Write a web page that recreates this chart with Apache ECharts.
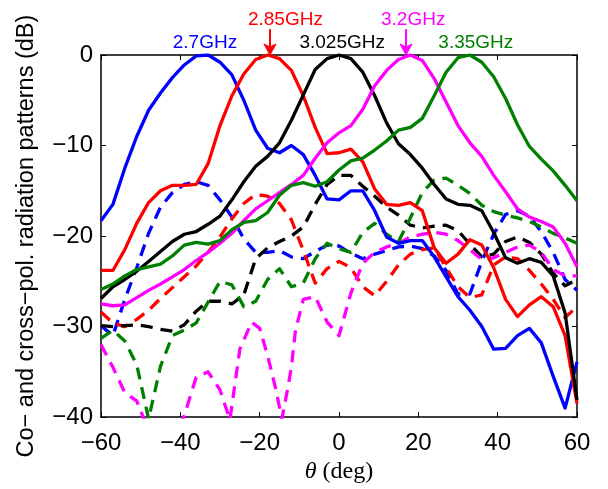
<!DOCTYPE html>
<html><head><meta charset="utf-8">
<script src="https://cdn.jsdelivr.net/npm/echarts@6/dist/echarts.min.js"></script>
<style>html,body{margin:0;padding:0;background:#fff}#c{width:608px;height:489px}</style>
</head><body><div id="c"></div>
<script>
// angle samples (deg)
const theta = [-60,-57,-54,-51,-48,-45,-42,-39,-36,-33,-30,-27,-24,-21,-18,-15,-12,-9,-6,-3,0,3,6,9,12,15,18,21,24,27,30,33,36,39,42,45,48,51,54,57,60];

// co-pol (solid)
const co27  = [-18.3,-16.5,-12.5,-9.0,-6.1,-4.2,-2.5,-1.1,-0.1,0,-0.8,-2.2,-5.0,-8.3,-10.3,-10.8,-10.0,-11.0,-13.3,-15.9,-16.0,-15.0,-15.0,-17.2,-20.1,-20.8,-20.5,-20.5,-22.3,-24.5,-26.7,-28.2,-30.0,-32.5,-32.4,-31.0,-30.2,-31.8,-35.5,-39.0,-33.9];
const co285 = [-23.8,-23.8,-21.5,-18.6,-16.3,-15.0,-14.4,-14.4,-14.3,-12.0,-7.8,-4.5,-2.1,-0.5,0,-0.4,-1.7,-4.5,-8.0,-10.9,-10.8,-10.4,-11.8,-14.8,-16.5,-16.6,-16.3,-17.2,-21.3,-23.0,-22.0,-20.4,-21.0,-23.5,-27.0,-28.9,-27.6,-26.7,-27.8,-31.0,-38.5];
const co3025= [-26.9,-25.6,-24.8,-23.9,-22.8,-21.7,-20.6,-19.8,-19.5,-18.7,-17.8,-16.0,-14.0,-12.3,-11.2,-9.7,-7.2,-4.4,-1.6,-0.4,0,-0.4,-1.9,-4.5,-7.5,-9.8,-11.0,-12.5,-14.3,-15.9,-16.5,-16.6,-17.2,-19.6,-22.4,-23.0,-22.5,-22.9,-24.4,-28.5,-38.1];
const co32  = [-27.5,-27.7,-27.6,-26.8,-26.0,-25.3,-24.5,-23.7,-22.7,-21.8,-20.8,-19.7,-18.3,-17.0,-16.1,-15.2,-14.3,-13.3,-11.4,-9.7,-8.6,-7.8,-6.0,-3.4,-1.7,-0.5,0,-0.6,-2.6,-5.2,-7.8,-9.7,-11.2,-13.3,-15.1,-17.0,-17.9,-18.4,-19.0,-20.8,-23.4];
const co335 = [-25.9,-25.3,-24.4,-23.7,-23.4,-23.1,-22.2,-21.0,-20.7,-20.9,-20.5,-19.3,-18.5,-18.3,-17.4,-15.5,-14.4,-14.1,-14.5,-14.0,-12.7,-11.7,-11.4,-10.5,-9.5,-8.3,-8.0,-7.0,-4.5,-1.9,-0.3,0,-0.8,-2.4,-4.8,-7.7,-10.1,-11.5,-12.8,-14.4,-16.1];

// cross-pol (dashed)
const x27   = [-29.9,-31.0,-27.0,-23.5,-19.7,-16.8,-15.2,-14.3,-14.0,-14.4,-16.0,-17.9,-20.3,-21.8,-21.8,-21.6,-22.3,-22.5,-21.7,-21.0,-21.1,-21.9,-22.5,-22.0,-21.6,-21.2,-21.1,-21.4,-22.2,-23.8,-26.4,-26.4,-22.8,-19.8,-17.6,-17.2,-17.8,-19.5,-21.8,-24.8,-26.0];
const x285  = [-28.4,-29.6,-30.0,-29.2,-28.2,-26.9,-25.7,-24.5,-23.3,-21.8,-20.1,-18.1,-16.4,-15.4,-15.6,-16.4,-18.2,-21.6,-25.2,-23.6,-22.8,-23.5,-25.6,-26.6,-25.0,-23.2,-22.0,-21.5,-21.3,-23.5,-25.6,-26.8,-26.5,-23.2,-22.3,-22.5,-23.8,-25.3,-27.0,-29.0,-27.8];
const x3025 = [-29.9,-30.0,-29.9,-29.8,-30.0,-30.3,-30.5,-29.8,-28.3,-27.2,-27.2,-27.5,-26.5,-22.5,-21.3,-20.6,-20.0,-19.0,-16.5,-14.3,-13.3,-13.3,-14.5,-15.6,-16.8,-17.7,-18.8,-19.1,-18.9,-18.8,-19.4,-20.9,-22.3,-22.0,-20.6,-20.1,-20.7,-22.0,-24.1,-25.5,-24.8];
const x335  = [-31.3,-30.4,-31.6,-34.2,-40.2,-34.4,-31.0,-30.4,-29.6,-27.3,-25.0,-25.4,-27.8,-27.2,-24.8,-23.6,-25.6,-25.2,-22.5,-20.8,-21.4,-21.8,-19.6,-18.6,-19.8,-20.6,-18.0,-15.2,-13.8,-13.6,-14.4,-15.3,-16.6,-17.3,-17.7,-18.0,-18.4,-19.0,-19.7,-20.2,-20.8];
// 3.2 GHz cross-pol needs its own (finer) angle samples
const theta32x = [-60,-57,-54,-51,-48,-45,-42,-39,-36,-33,-30,-27.5,-25,-22,-20,-18,-16,-14.4,-13,-12,-11,-9,-6,-3,0,3,6,9,12,15,18,21,24,27,30,33,36,39,42,45,48,51,54,57,60];
const x32   = [-32.0,-34.5,-37.3,-38.2,-41.5,-44,-43,-39.8,-35.6,-35.0,-37.0,-40.3,-32.5,-29.5,-30.2,-33.2,-36.8,-40.2,-37.0,-34.5,-30.5,-27.0,-26.7,-29.5,-31.0,-26.3,-23.0,-21.8,-21.2,-20.8,-20.1,-19.8,-19.6,-19.8,-20.5,-21.5,-22.6,-22.4,-21.8,-21.2,-21.0,-21.8,-23.7,-24.4,-24.4];

const xTicks = [-60,-40,-20,0,20,40,60];
const yTicks = [-40,-30,-20,-10,0];

const BLUE='#0000ff', RED='#ff0000', BLACK='#000000', MAG='#ff00ff', GREEN='#008000';

// annotation labels (data coordinates) and arrows
const labels = [
  {text:'2.7GHz',   color:BLUE,  x:-33.8, y:1.35},
  {text:'2.85GHz',  color:RED,   x:-13.5, y:3.85},
  {text:'3.025GHz', color:BLACK, x:0.8,   y:1.35},
  {text:'3.2GHz',   color:MAG,   x:18.7,  y:3.85},
  {text:'3.35GHz',  color:GREEN, x:34.5,  y:1.35}
];
const arrows = [
  {color:RED, x:-17.4, from:2.85, to:0},
  {color:MAG, x:16.9,  from:2.85, to:0}
];

function pairs(xs, ys){ return xs.map((v,i)=>[v, ys[i]]); }
function mk(name, xs, ys, color, dashed){
  return {name, type:'line', data:pairs(xs,ys), showSymbol:false, symbol:'none', clip:true,
    lineStyle:{color, width:3.3, type: dashed ? [12,8] : 'solid', cap:'butt', join:'round'}, itemStyle:{color},
    animation:false, z: dashed?2:3};
}
const FONT='"Liberation Sans", Arial, sans-serif';
const SERIF='"Liberation Serif", "DejaVu Serif", serif';
const minus = v => v<0 ? '\u2212'+(-v) : String(v);

const chart = echarts.init(document.getElementById('c'), null, {renderer:'canvas'});
const axisCommon = {min:-60,max:60,interval:20};
chart.setOption({
  animation:false,
  backgroundColor:'#fff',
  grid:{left:101, right:31, top:55, bottom:70, containLabel:false},
  xAxis:[
    {type:'value', ...axisCommon, position:'bottom',
     axisLine:{show:true,onZero:false,lineStyle:{color:'#000',width:1.5}},
     axisTick:{show:true,inside:true,length:5,lineStyle:{color:'#000',width:1}},
     splitLine:{show:false},
     axisLabel:{color:'#000',fontSize:24,fontFamily:FONT,margin:14,formatter:minus,
       customValues:xTicks},
     name:'{i|θ} (deg)', nameLocation:'middle', nameGap:36,
     nameTextStyle:{color:'#000',fontSize:24,fontFamily:SERIF,
       rich:{i:{fontStyle:'italic',fontSize:24,fontFamily:SERIF,color:'#000'}}}},
    {type:'value', ...axisCommon, position:'top',
     axisLine:{show:true,onZero:false,lineStyle:{color:'#000',width:1.5}},
     axisTick:{show:true,inside:true,length:5,lineStyle:{color:'#000',width:1}},
     splitLine:{show:false}, axisLabel:{show:false}}
  ],
  yAxis:[
    {type:'value', min:-40, max:0, interval:10, position:'left',
     axisLine:{show:true,onZero:false,lineStyle:{color:'#000',width:1.5}},
     axisTick:{show:true,inside:true,length:5,lineStyle:{color:'#000',width:1}},
     splitLine:{show:false},
     axisLabel:{color:'#000',fontSize:24,fontFamily:FONT,margin:8,formatter:minus},
     name:'Co\u2212 and cross\u2212pol. radiation patterns (dB)', nameLocation:'middle', nameRotate:90, nameGap:62,
     nameTextStyle:{color:'#000',fontSize:23.5,fontFamily:FONT}},
    {type:'value', min:-40, max:0, interval:10, position:'right',
     axisLine:{show:true,onZero:false,lineStyle:{color:'#000',width:1.5}},
     axisTick:{show:true,inside:true,length:5,lineStyle:{color:'#000',width:1}},
     splitLine:{show:false}, axisLabel:{show:false}}
  ],
  series:[
    mk('x27',theta,x27,BLUE,true),
    mk('x285',theta,x285,RED,true),
    mk('x3025',theta,x3025,BLACK,true),
    mk('x32',theta32x,x32,MAG,true),
    mk('x335',theta,x335,GREEN,true),
    mk('co27',theta,co27,BLUE,false),
    mk('co285',theta,co285,RED,false),
    mk('co3025',theta,co3025,BLACK,false),
    mk('co32',theta,co32,MAG,false),
    mk('co335',theta,co335,GREEN,false)
  ]
});

// annotations positioned through the chart's own scales
const px = (x,y) => chart.convertToPixel({xAxisIndex:0, yAxisIndex:0}, [x,y]);
const g = [];
labels.forEach(l=>{
  const p = px(l.x,l.y);
  g.push({type:'text', x:p[0], y:p[1], z:10,
    style:{text:l.text, fill:l.color, font:'19px '+FONT, align:'center', verticalAlign:'middle',
           textAlign:'center', textVerticalAlign:'middle'}});
});
arrows.forEach(a=>{
  const p0 = px(a.x,a.from), p1 = px(a.x,a.to);
  g.push({type:'line', z:10, shape:{x1:p0[0],y1:p0[1],x2:p1[0],y2:p1[1]-4}, style:{stroke:a.color,lineWidth:2}});
  g.push({type:'polygon', z:10, shape:{points:[[p1[0],p1[1]],[p1[0]-6,p1[1]-11],[p1[0],p1[1]-8],[p1[0]+6,p1[1]-11]]},
    style:{fill:a.color,stroke:a.color,lineWidth:1}});
});
chart.setOption({graphic:g});
</script></body></html>
